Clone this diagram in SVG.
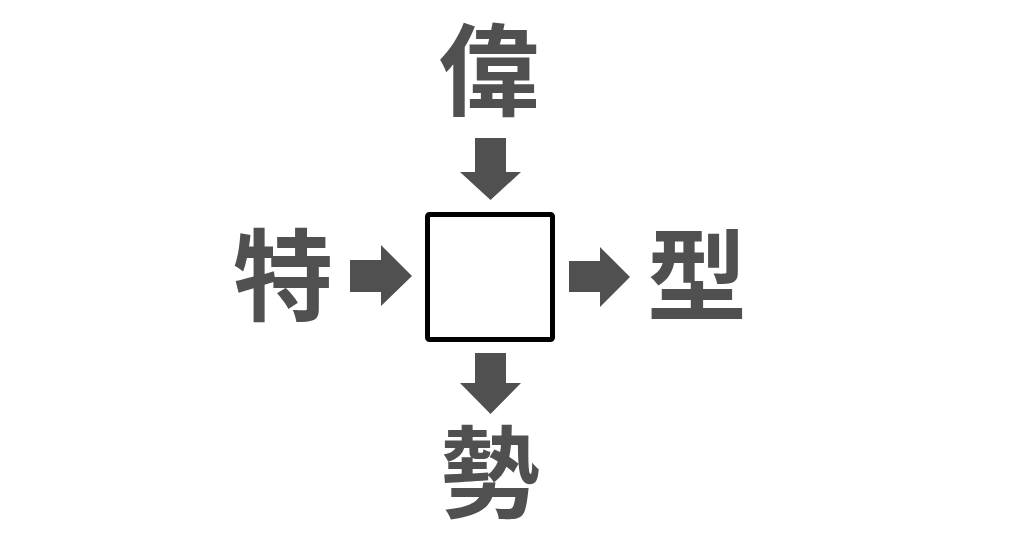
<svg xmlns="http://www.w3.org/2000/svg" width="1024" height="538" viewBox="0 0 1024 538">
<style>
.k{font-family:"Noto Sans CJK JP","Noto Sans CJK SC",sans-serif;font-weight:bold;font-size:100px;fill:#505050;text-anchor:middle}
.a{fill:#505050}
</style>
<rect width="1024" height="538" fill="#fff"/>
<g id="center"><rect x="427.5" y="214.5" width="125" height="125" rx="2" fill="#fff" stroke="#000" stroke-width="5"/></g>
<g id="top"><text class="k" x="489" y="108">偉</text></g>
<g id="left"><text class="k" x="283" y="313">特</text></g>
<g id="right"><text class="k" x="697" y="313">型</text></g>
<g id="bottom"><text class="k" x="490" y="510">勢</text></g>
<g id="connectors">
<polygon class="a" points="475,138 506,138 506,172 521,172 490.5,200 460,172 475,172"/>
<polygon class="a" points="350,260 381,260 381,245 412,276 381,306 381,292 350,292"/>
<polygon class="a" points="569,261 600,261 600,247 630,277 600,307 600,292 569,292"/>
<polygon class="a" points="475,353 506,353 506,383 521,383 490.5,414 460,383 475,383"/>
</g>
</svg>
